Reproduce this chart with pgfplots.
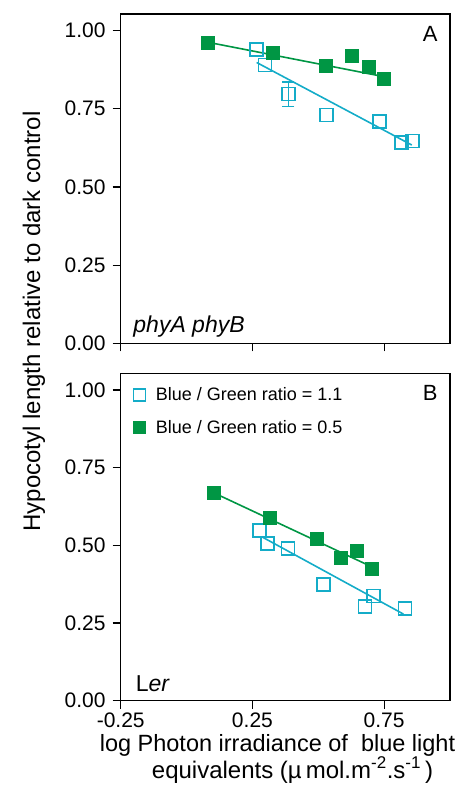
\documentclass[border=0pt]{standalone}
\usepackage{fontspec}
\setmainfont{Liberation Sans}
\usepackage{pgfplots}
\pgfplotsset{compat=1.18}
\definecolor{cblue}{RGB}{20,172,200}
\definecolor{cgreen}{RGB}{0,150,68}
\pgfplotsset{
 myax/.style={
  scale only axis, width=329.3pt,
  xmin=-0.25, xmax=1.0, ymin=0,
  xtick={-0.25,0.25,0.75},
  ytick={0,0.25,0.5,0.75,1},
  yticklabels={0.00,0.25,0.50,0.75,1.00},
  tick align=outside, xtick pos=left, ytick pos=left,
  major tick length=8pt,
  axis line style={line width=1.2pt},
  every tick/.style={line width=1.2pt, black},
  ticklabel style={font=\fontsize{21}{25}\selectfont, inner sep=0pt},
  xticklabel style={yshift=-4pt},
  yticklabel style={xshift=-7pt},
  clip=false,
 },
 bser/.style={only marks, mark=square, mark size=6.5pt, cblue, line width=1.8pt},
 gser/.style={only marks, mark=square*, mark size=6.5pt, cgreen, line width=0.5pt},
 bline/.style={no marks, cblue, line width=1.6pt, forget plot},
 gline/.style={no marks, cgreen, line width=1.6pt, forget plot},
}
\begin{document}
\begin{tikzpicture}[x=1pt,y=1pt]
\useasboundingbox (0,0) rectangle (461,-806);
% Panel A
\begin{axis}[myax, at={(120.7pt,-343.3pt)}, anchor=south west,
  height=329.3pt, ymax=1.053, xticklabels={,,}]
\addplot[gline] coordinates {(0.079,0.963) (0.747,0.853)};
\addplot[bline] coordinates {(0.266,0.898) (0.855,0.634)};
\addplot[bser] coordinates {(0.264,0.940) (0.298,0.890) (0.532,0.730) (0.732,0.708) (0.817,0.643) (0.857,0.647)};
\addplot[bser, error bars/.cd, y dir=both, y explicit,
  error bar style={line width=1.5pt, cblue},
  error mark options={rotate=90, mark size=6pt, line width=1.5pt, cblue}]
  coordinates {(0.386,0.797) +- (0,0.039)};
\addplot[gser] coordinates {(0.079,0.960) (0.329,0.930) (0.529,0.887) (0.627,0.919) (0.690,0.885) (0.747,0.846)};
\node[anchor=center, font=\fontsize{22}{26}\selectfont] at (rel axis cs:0.94,0.94) {A};
\node[anchor=base west, font=\fontsize{23}{27}\selectfont\itshape] at (rel axis cs:0.028,0.032) {phyA phyB};
\end{axis}
% Panel B
\begin{axis}[myax, at={(120.7pt,-700.7pt)}, anchor=south west,
  height=327.4pt, ymax=1.054, xticklabels={-0.25,0.25,0.75},
  legend style={at={(rel axis cs:0.0,1.0)}, anchor=north west, xshift=9.5pt, yshift=-10pt,
    draw=none, fill=none,
    font=\fontsize{18}{22}\selectfont, row sep=14pt,
    nodes={font=\fontsize{18}{22}\selectfont, inner xsep=3pt},
    legend cell align=left},
  legend image code/.code={\draw[#1, mark size=6pt] (6pt,0pt) plot coordinates {(6pt,0pt)}; \path[draw=none, fill=none] (0pt,0pt) rectangle (19.5pt,0.1pt);},
  ]
\addplot[gline] coordinates {(0.104,0.669) (0.703,0.431)};
\addplot[bline] coordinates {(0.285,0.528) (0.823,0.279)};
\addplot[bser] coordinates {(0.276,0.549) (0.307,0.507) (0.385,0.489) (0.519,0.375) (0.677,0.303) (0.709,0.337) (0.829,0.297)};
\addlegendentry{Blue / Green ratio = 1.1}
\addplot[gser] coordinates {(0.104,0.669) (0.317,0.590) (0.496,0.521) (0.585,0.460) (0.646,0.483) (0.703,0.425)};
\addlegendentry{Blue / Green ratio = 0.5}
\node[anchor=center, font=\fontsize{22}{26}\selectfont] at (rel axis cs:0.94,0.94) {B};
\node[anchor=base west, font=\fontsize{23}{27}\selectfont] at (rel axis cs:0.035,0.028) {L\textit{er}};
\end{axis}
\node[rotate=90, font=\fontsize{24}{28}\selectfont] at (34,-321.5) {Hypocotyl length relative to dark control};
\node[anchor=base, inner sep=0pt, font=\fontsize{23.5}{27}\selectfont] at (277.5,-751) {log Photon irradiance of\ \ blue light};
\node[anchor=base, inner sep=0pt, font=\fontsize{24}{28}\selectfont] at (292.5,-778) {equivalents (µ\,mol.m\textsuperscript{\fontsize{17}{19}\selectfont -2}.s\textsuperscript{\fontsize{17}{19}\selectfont -1}\,)};
\end{tikzpicture}
\end{document}
